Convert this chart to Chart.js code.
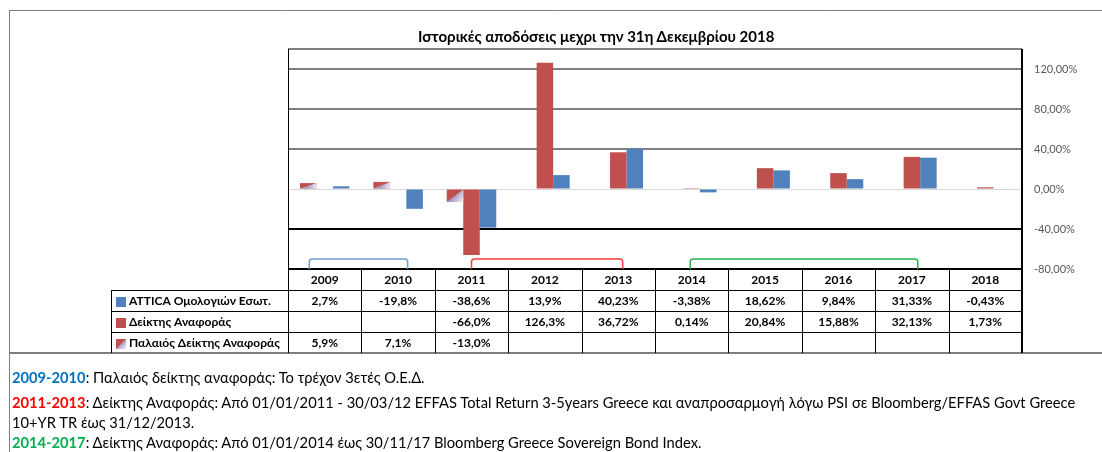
<!DOCTYPE html>
<html lang="el">
<head>
<meta charset="utf-8">
<title>Ιστορικές αποδόσεις</title>
<script src="https://cdn.jsdelivr.net/npm/chart.js@4.4.1/dist/chart.umd.min.js"></script>
<style>
    html, body { margin: 0; padding: 0; background: #fff; }
    #quadro { position: relative; width: 1102px; height: 452px; overflow: hidden; font-family: Lato, "Open Sans", sans-serif; color: #000; }
    #grafico { position: absolute; left: 0; top: 0; }
    #titulo { position: absolute; left: 418px; top: 27px; font-weight: bold; font-size: 15px; white-space: nowrap; }
    .nota { position: absolute; left: 12px; font-size: 14.7px; line-height: 18px; white-space: nowrap; }
    .nota b { font-weight: bold; }
</style>
</head>
<body>
<div id="quadro">
    <canvas id="grafico" width="1102" height="452"></canvas>
    <div id="titulo">Ιστορικές αποδόσεις μεχρι την 31η Δεκεμβρίου 2018</div>
    <div class="nota" style="top:368px"><b style="color:#0070c0">2009-2010</b>: Παλαιός δείκτης αναφοράς: Το τρέχον 3ετές Ο.Ε.Δ.</div>
    <div class="nota" style="top:393px"><b style="color:#ff0000">2011-2013</b>: Δείκτης Αναφοράς: Από 01/01/2011 - 30/03/12 EFFAS Total Return 3-5years Greece και αναπροσαρμογή λόγω PSI σε Bloomberg/EFFAS Govt Greece</div>
    <div class="nota" style="top:413px">10+YR TR έως 31/12/2013.</div>
    <div class="nota" style="top:433px"><b style="color:#00b050">2014-2017</b>: Δείκτης Αναφοράς: Από 01/01/2014 έως 30/11/17 Bloomberg Greece Sovereign Bond Index.</div>
</div>
<script>
// Dados do gráfico
const anos = ['2009', '2010', '2011', '2012', '2013', '2014', '2015', '2016', '2017', '2018'];
const atticaOmologion = [2.7, -19.8, -38.6, 13.9, 40.23, -3.38, 18.62, 9.84, 31.33, -0.43];
const deiktisAnaforas = [null, null, -66.0, 126.3, 36.72, 0.14, 20.84, 15.88, 32.13, 1.73];
const palaiosDeiktis = [5.9, 7.1, -13.0, null, null, null, null, null, null, null];
const casasDecimais = [1, 1, 1, 1, 2, 2, 2, 2, 2, 2];
const eixoMin = -80;
const eixoMax = 140;
const eixoPasso = 40;

const AZUL = '#4f81bd';
const VERMELHO = '#c0504d';

// Colchetes de período acima da tabela (índices de categoria)
const periodos = [
    { de: 0, ate: 1, cor: '#6f9bd1', recuoEsq: 0.29, recuoDir: 0.37 },
    { de: 2, ate: 4, cor: '#ff3b3b', recuoEsq: 0.50, recuoDir: 0.44 },
    { de: 5, ate: 8, cor: '#22b14c', recuoEsq: 0.48, recuoDir: 0.42 }
];

const linhasTabela = [
    { nome: 'ATTICA Ομολογιών Εσωτ.', valores: atticaOmologion, icone: 'azul' },
    { nome: 'Δείκτης Αναφοράς', valores: deiktisAnaforas, icone: 'vermelho' },
    { nome: 'Παλαιός Δείκτης Αναφοράς', valores: palaiosDeiktis, icone: 'diagonal' }
];

const FONTE = 'Lato, "Open Sans", sans-serif';
Chart.defaults.font.family = FONTE;

function formatar(valor, casas) {
    return valor.toFixed(casas).replace('.', ',') + '%';
}

// Triângulo claro no canto inferior direito (série antiga)
function pintarDiagonal(ctx, esq, topo, dir, base) {
    const g = ctx.createLinearGradient((esq + dir) / 2, (topo + base) / 2, dir, base);
    g.addColorStop(0, '#a99cc6');
    g.addColorStop(1, '#f6f4fa');
    ctx.fillStyle = g;
    ctx.beginPath();
    ctx.moveTo(esq, base);
    ctx.lineTo(dir, topo);
    ctx.lineTo(dir, base);
    ctx.closePath();
    ctx.fill();
}

function linha(ctx, x1, y1, x2, y2) {
    ctx.beginPath();
    ctx.moveTo(x1, y1);
    ctx.lineTo(x2, y2);
    ctx.stroke();
}

const pluginDiagonal = {
    id: 'diagonal',
    afterDatasetsDraw(chart) {
        const ctx = chart.ctx;
        const meta = chart.getDatasetMeta(0);
        ctx.save();
        meta.data.forEach((el, i) => {
            if (palaiosDeiktis[i] === null) return;
            const p = el.getProps(['x', 'y', 'base', 'width'], true);
            const esq = p.x - p.width / 2, dir = p.x + p.width / 2;
            pintarDiagonal(ctx, esq, Math.min(p.y, p.base), dir, Math.max(p.y, p.base));
        });
        ctx.restore();
    }
};

const pluginTabela = {
    id: 'tabela',
    afterDraw(chart) {
        const ctx = chart.ctx;
        const area = chart.chartArea;
        const xs = chart.scales.x;
        const larg = area.width / anos.length;
        const altLinha = 21;
        const topo = area.bottom;
        const fundo = topo + altLinha * 4;
        const esqRotulo = 111;

        ctx.save();

        // moldura externa
        ctx.strokeStyle = '#7f7f7f';
        ctx.lineWidth = 1;
        linha(ctx, 9, 10.5, chart.width, 10.5);
        linha(ctx, 9.5, 10, 9.5, chart.height);
        ctx.lineWidth = 2;
        linha(ctx, 9, fundo, chart.width, fundo);

        // linhas da tabela
        ctx.strokeStyle = '#000';
        ctx.lineWidth = 1;
        linha(ctx, area.left + 0.5, area.top, area.left + 0.5, fundo);
        linha(ctx, area.right - 0.5, area.top, area.right - 0.5, fundo);
        for (let r = 1; r < 4; r++) {
            const y = Math.round(topo + r * altLinha) + 0.5;
            linha(ctx, esqRotulo, y, area.right, y);
        }
        linha(ctx, esqRotulo + 0.5, topo + altLinha, esqRotulo + 0.5, fundo);
        anos.forEach((a, i) => {
            const x = Math.round(xs.getPixelForValue(i) + larg / 2) + 0.5;
            linha(ctx, x, topo, x, fundo);
        });

        // textos
        ctx.fillStyle = '#000';
        ctx.font = 'bold 12px ' + FONTE;
        ctx.textAlign = 'center';
        ctx.textBaseline = 'middle';
        anos.forEach((a, i) => {
            ctx.fillText(a, xs.getPixelForValue(i), topo + altLinha / 2 + 1);
        });
        linhasTabela.forEach((l, r) => {
            const yc = topo + altLinha * (r + 1) + altLinha / 2 + 1;
            l.valores.forEach((v, i) => {
                if (v === null) return;
                ctx.textAlign = 'center';
                ctx.fillText(formatar(v, casasDecimais[i]), xs.getPixelForValue(i), yc);
            });
            // ícone da legenda
            const ix = esqRotulo + 5, iy = Math.round(yc - 5);
            if (l.icone === 'azul') {
                ctx.fillStyle = AZUL;
                ctx.fillRect(ix, iy, 10, 10);
            } else {
                ctx.fillStyle = VERMELHO;
                ctx.fillRect(ix, iy, 10, 10);
                if (l.icone === 'diagonal') pintarDiagonal(ctx, ix, iy, ix + 10, iy + 10);
            }
            ctx.fillStyle = '#000';
            ctx.textAlign = 'left';
            ctx.fillText(l.nome, ix + 13, yc);
        });

        // colchetes dos períodos
        ctx.lineWidth = 1.5;
        periodos.forEach(p => {
            const x1 = xs.getPixelForValue(p.de) - larg / 2 + larg * p.recuoEsq;
            const x2 = xs.getPixelForValue(p.ate) + larg / 2 - larg * p.recuoDir;
            const y1 = topo - 10, y2 = topo, raio = 3;
            ctx.strokeStyle = p.cor;
            ctx.beginPath();
            ctx.moveTo(x1, y2);
            ctx.lineTo(x1, y1 + raio);
            ctx.quadraticCurveTo(x1, y1, x1 + raio, y1);
            ctx.lineTo(x2 - raio, y1);
            ctx.quadraticCurveTo(x2, y1, x2, y1 + raio);
            ctx.lineTo(x2, y2);
            ctx.stroke();
        });

        ctx.restore();
    }
};

const ctx = document.getElementById('grafico').getContext('2d');
const grafico = new Chart(ctx, {
    type: 'bar',
    data: {
        labels: anos,
        datasets: [
            {
                label: 'Παλαιός Δείκτης Αναφοράς',
                data: palaiosDeiktis,
                backgroundColor: VERMELHO
            },
            {
                label: 'Δείκτης Αναφοράς',
                data: deiktisAnaforas,
                backgroundColor: VERMELHO
            },
            {
                label: 'ATTICA Ομολογιών Εσωτ.',
                data: atticaOmologion,
                backgroundColor: AZUL
            }
        ]
    },
    options: {
        responsive: false,
        animation: false,
        events: [],
        layout: {
            padding: { left: 288, top: 49, right: 0, bottom: 183 }
        },
        datasets: {
            bar: {
                categoryPercentage: 0.675,
                barPercentage: 1
            }
        },
        plugins: {
            legend: { display: false },
            tooltip: { enabled: false },
            title: { display: false }
        },
        scales: {
            x: {
                display: false
            },
            y: {
                position: 'right',
                min: eixoMin,
                max: eixoMax,
                afterFit(scale) { scale.width = 80; },
                border: { display: true, color: '#000', width: 1 },
                grid: {
                    drawTicks: false,
                    color: c => c.tick.value === 0 ? '#d9d9d9' : (c.tick.value < 0 ? '#000' : '#7f7f7f'),
                    lineWidth: c => c.tick.value === 0 ? 1 : 2
                },
                ticks: {
                    stepSize: eixoPasso,
                    autoSkip: false,
                    padding: 12,
                    color: '#595959',
                    font: { size: 11 },
                    callback: v => v === eixoMax ? '' : formatar(v, 2)
                }
            }
        }
    },
    plugins: [pluginDiagonal, pluginTabela]
});
</script>
</body>
</html>
